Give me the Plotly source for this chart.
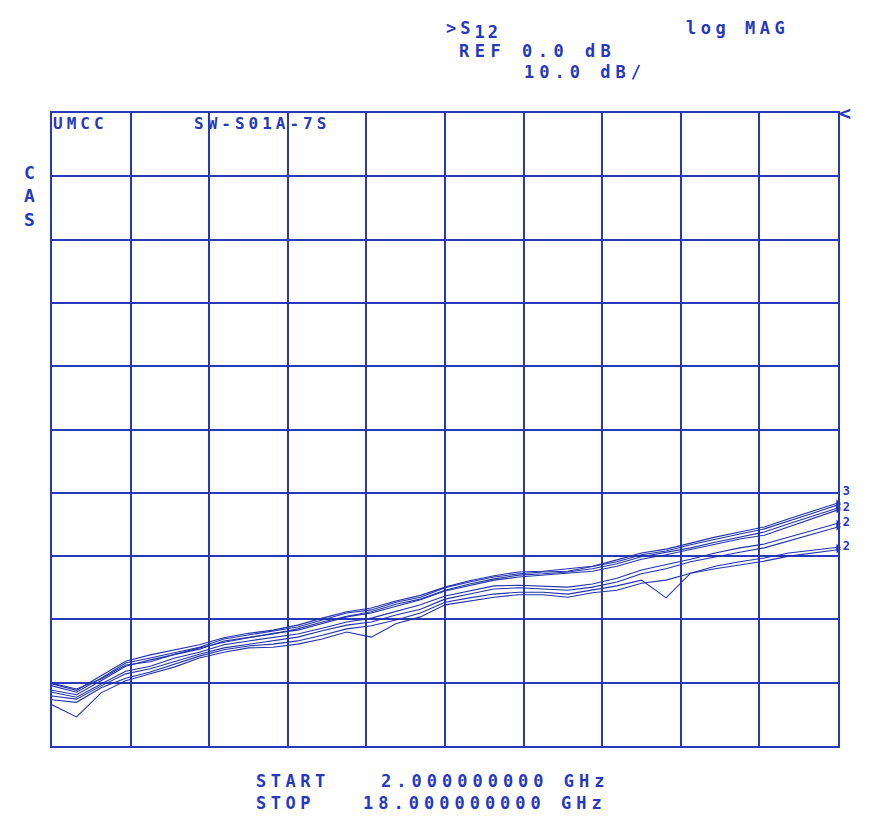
import plotly.graph_objects as go

# Frequency points (GHz)
freq_ghz = [2.0, 2.5, 3.0, 3.5, 4.0, 4.5, 5.0, 5.5, 6.0, 6.5, 7.0, 7.5, 8.0, 8.5, 9.0, 9.5, 10.0,
            10.5, 11.0, 11.5, 12.0, 12.5, 13.0, 13.5, 14.0, 14.5, 15.0, 15.5, 16.0, 16.5, 17.0, 17.5, 18.0]

# S12 log magnitude (dB) for each measured trace
s12_t1 = [-90.2, -91.2, -88.9, -86.6, -85.6, -84.8, -84.0, -82.9, -82.2, -81.7, -80.9, -79.8, -78.8,
          -78.2, -77.1, -76.2, -74.9, -73.9, -73.1, -72.5, -72.4, -72.0, -71.6, -70.6, -69.5, -68.9,
          -67.9, -67.0, -66.2, -65.4, -64.1, -62.9, -61.6]
s12_t2 = [-90.5, -91.5, -89.3, -86.9, -86.1, -85.2, -84.4, -83.1, -82.5, -81.8, -81.2, -80.1, -79.0,
          -78.5, -77.3, -76.5, -75.0, -74.1, -73.3, -72.8, -72.5, -72.4, -71.7, -70.9, -69.8, -69.2,
          -68.2, -67.3, -66.5, -65.7, -64.5, -63.2, -61.9]
s12_t3 = [-91.2, -91.9, -89.7, -87.4, -86.4, -85.6, -84.7, -83.4, -82.8, -82.3, -81.5, -80.4, -79.5,
          -78.8, -77.6, -76.8, -75.4, -74.4, -73.6, -73.0, -72.8, -72.5, -72.0, -71.2, -70.1, -69.4,
          -68.7, -67.8, -67.0, -66.2, -64.9, -63.7, -62.4]
s12_t4 = [-90.1, -91.0, -89.4, -87.2, -86.7, -85.5, -84.5, -83.6, -82.9, -82.2, -81.7, -80.7, -79.6,
          -79.0, -77.9, -76.9, -75.5, -74.7, -73.8, -73.3, -73.0, -72.8, -72.4, -71.6, -70.5, -69.8,
          -69.0, -68.1, -67.3, -66.7, -65.4, -64.1, -62.7]
s12_t5 = [-91.5, -92.3, -90.2, -88.2, -87.4, -86.1, -85.2, -84.0, -83.4, -82.9, -82.3, -81.4, -80.4,
          -79.8, -78.7, -77.7, -76.3, -75.5, -74.7, -74.6, -74.7, -74.9, -74.4, -73.5, -72.2, -71.4,
          -70.5, -69.5, -68.7, -68.1, -67.0, -65.9, -64.8]
s12_t6 = [-92.1, -92.6, -90.5, -88.6, -87.8, -86.6, -85.5, -84.5, -83.9, -83.4, -82.8, -81.8, -80.9,
          -80.4, -79.3, -78.4, -76.8, -76.0, -75.2, -75.0, -75.2, -75.4, -74.9, -74.1, -72.8, -72.0,
          -70.9, -70.1, -69.4, -68.7, -67.6, -66.5, -65.4]
s12_t7 = [-92.7, -93.1, -90.8, -89.3, -88.3, -87.0, -85.8, -84.8, -84.2, -83.9, -83.4, -82.5, -81.5,
          -81.0, -80.1, -79.0, -77.3, -76.6, -76.0, -75.7, -75.7, -76.0, -75.4, -74.7, -73.8, -76.6,
          -72.7, -71.6, -70.9, -70.3, -69.5, -69.0, -68.6]
s12_t8 = [-93.5, -95.4, -91.6, -89.7, -88.6, -87.5, -86.1, -85.2, -84.5, -84.4, -83.9, -83.1, -82.0,
          -82.8, -80.7, -79.6, -77.7, -77.1, -76.5, -76.1, -76.1, -76.5, -75.8, -75.4, -74.3, -73.8,
          -72.7, -72.0, -71.4, -70.8, -70.0, -69.5, -69.0]

traces = [s12_t1, s12_t2, s12_t3, s12_t4, s12_t5, s12_t6, s12_t7, s12_t8]
end_labels = ["3", "", "2", "", "2", "", "2", ""]
label_pos = ["top right", "middle right", "middle right", "middle right",
             "middle right", "middle right", "middle right", "middle right"]

BLUE = "#2838bb"
LINE = "#2233ad"
FONT = "DejaVu Sans Mono"

fig = go.Figure()
for vals, lab, pos in zip(traces, end_labels, label_pos):
    fig.add_trace(go.Scatter(x=freq_ghz, y=vals, mode="lines",
                             line=dict(color=LINE, width=1.1), showlegend=False,
                             hoverinfo="skip"))
    end = dict(x=[freq_ghz[-1]], y=[vals[-1]],
               marker=dict(symbol="triangle-right", size=6, color=LINE),
               showlegend=False, hoverinfo="skip", cliponaxis=False)
    if lab:
        fig.add_trace(go.Scatter(mode="markers+text", text=[lab], textposition=pos,
                                 textfont=dict(family=FONT, size=12, color=BLUE, weight="bold"),
                                 **end))
    else:
        fig.add_trace(go.Scatter(mode="markers", **end))


def sp(t, ls):
    return f'<span style="letter-spacing:{ls}px">{t}</span>'


def ann(text, x, y, size=17, xanchor="left", yanchor="middle"):
    fig.add_annotation(text=text, x=x, y=y, xref="paper", yref="paper",
                       xanchor=xanchor, yanchor=yanchor, showarrow=False,
                       font=dict(family=FONT, size=size, color=BLUE, weight="bold"), borderpad=0)


ann(sp("&gt;S", 4) + '<sub><span style="font-size:17px;letter-spacing:3px">12</span></sub>', 0.5, 1.131)
ann(sp("log MAG", 4.5), 0.805, 1.135)
ann(sp("REF 0.0 dB", 5.5), 0.5165, 1.098)
ann(sp("10.0 dB/", 5), 0.599, 1.065)
ann(sp("UMCC", 4), 0.0, 0.983, size=16)
ann(sp("SW-S01A-7S", 4), 0.179, 0.983, size=16)
ann("C<br>A<br>S", -0.028, 0.869, size=18, xanchor="center")
ann(sp("START", 4.5), 0.258, -0.055)
ann(sp("2.000000000 GHz", 5), 0.417, -0.055)
ann(sp("STOP", 4.5), 0.258, -0.090)
ann(sp("18.000000000 GHz", 5), 0.394, -0.090)
ann("&lt;", 1.0, 1.0, size=20)

axis_common = dict(showticklabels=False, showgrid=True, gridcolor=BLUE, gridwidth=1.6,
                   zeroline=False, showline=True, linecolor=BLUE, linewidth=2, mirror=True,
                   ticks="", fixedrange=True)

fig.update_layout(
    width=867, height=813,
    margin=dict(l=44, r=37, t=105, b=75),
    paper_bgcolor="white", plot_bgcolor="white",
    xaxis=dict(range=[2, 18], tick0=2, dtick=1.6, **axis_common),
    yaxis=dict(range=[-100, 0], tick0=0, dtick=10, **axis_common),
    showlegend=False,
)

fig.write_html("out.html")
